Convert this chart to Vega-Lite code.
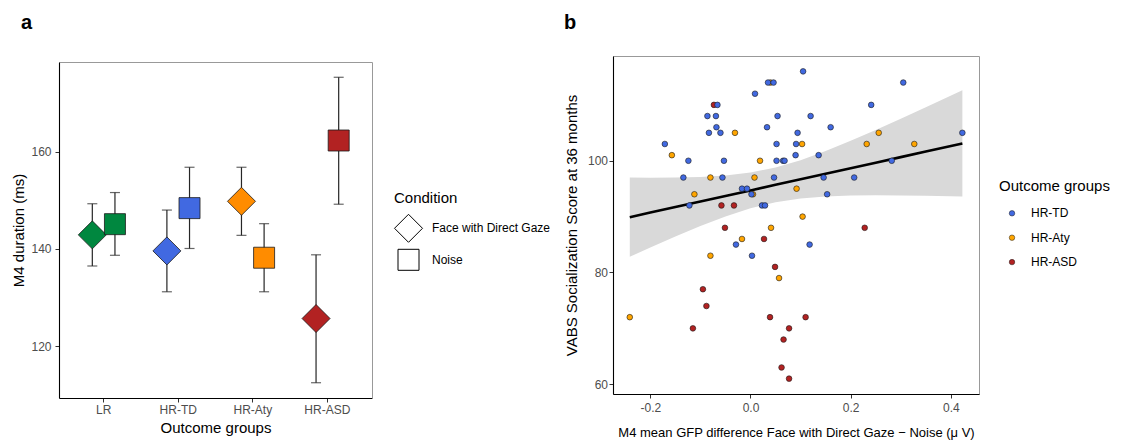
{
  "$schema": "https://vega.github.io/schema/vega-lite/v6.json",
  "padding": {"left": 11, "top": 12, "right": 0, "bottom": 0},
  "background": "white",
  "spacing": 191,
  "config": {
    "font": "Liberation Sans",
    "axis": {"labelFont": "Liberation Sans", "titleFont": "Liberation Sans", "labelColor": "#4D4D4D", "labelFontSize": 12, "titleFontSize": 15, "titleFontWeight": "normal", "titleColor": "black", "domainColor": "black", "domainWidth": 1.1, "tickColor": "#333333", "tickSize": 4, "tickWidth": 1, "grid": false},
    "legend": {"titleFontSize": 15, "titleFontWeight": "normal", "labelFontSize": 12, "labelColor": "black", "titleColor": "black", "labelFont": "Liberation Sans", "titleFont": "Liberation Sans", "titleAnchor": "start", "titleAlign": "left"},
    "title": {"font": "Liberation Sans", "fontSize": 20, "fontWeight": "bold", "anchor": "start", "frame": "bounds", "baseline": "alphabetic", "color": "black"},
    "view": {"stroke": null}
  },
  "datasets": {
    "means": [
      {"group": "LR", "condition": "Face with Direct Gaze", "mean": 142.9, "lo": 136.5, "hi": 149.3},
      {"group": "LR", "condition": "Noise", "mean": 145.1, "lo": 138.7, "hi": 151.6},
      {"group": "HR-TD", "condition": "Face with Direct Gaze", "mean": 139.6, "lo": 131.2, "hi": 148.0},
      {"group": "HR-TD", "condition": "Noise", "mean": 148.4, "lo": 140.1, "hi": 156.8},
      {"group": "HR-Aty", "condition": "Face with Direct Gaze", "mean": 149.8, "lo": 142.8, "hi": 156.8},
      {"group": "HR-Aty", "condition": "Noise", "mean": 138.2, "lo": 131.2, "hi": 145.2},
      {"group": "HR-ASD", "condition": "Face with Direct Gaze", "mean": 125.7, "lo": 112.5, "hi": 138.8},
      {"group": "HR-ASD", "condition": "Noise", "mean": 162.3, "lo": 149.2, "hi": 175.3}
    ],
    "fit": [
      {"gfp": -0.241, "fit": 89.90, "lo": 82.81, "hi": 96.99},
      {"gfp": -0.2, "fit": 90.72, "lo": 84.47, "hi": 96.97},
      {"gfp": -0.15, "fit": 91.71, "lo": 86.43, "hi": 96.99},
      {"gfp": -0.1, "fit": 92.70, "lo": 88.31, "hi": 97.09},
      {"gfp": -0.05, "fit": 93.70, "lo": 90.04, "hi": 97.36},
      {"gfp": 0.0, "fit": 94.69, "lo": 91.50, "hi": 97.88},
      {"gfp": 0.05, "fit": 95.69, "lo": 92.59, "hi": 98.79},
      {"gfp": 0.1, "fit": 96.68, "lo": 93.25, "hi": 100.11},
      {"gfp": 0.15, "fit": 97.67, "lo": 93.60, "hi": 101.74},
      {"gfp": 0.2, "fit": 98.67, "lo": 93.76, "hi": 103.58},
      {"gfp": 0.25, "fit": 99.66, "lo": 93.81, "hi": 105.52},
      {"gfp": 0.3, "fit": 100.65, "lo": 93.78, "hi": 107.52},
      {"gfp": 0.35, "fit": 101.65, "lo": 93.73, "hi": 109.57},
      {"gfp": 0.423, "fit": 103.10, "lo": 93.60, "hi": 112.60}
    ],
    "vabs": [
      {"gfp": -0.073, "vabs": 110, "outcome": "HR-ASD"},
      {"gfp": -0.058, "vabs": 92, "outcome": "HR-ASD"},
      {"gfp": -0.033, "vabs": 92, "outcome": "HR-ASD"},
      {"gfp": -0.051, "vabs": 88, "outcome": "HR-ASD"},
      {"gfp": 0.228, "vabs": 88, "outcome": "HR-ASD"},
      {"gfp": 0.027, "vabs": 86, "outcome": "HR-ASD"},
      {"gfp": 0.049, "vabs": 81, "outcome": "HR-ASD"},
      {"gfp": -0.095, "vabs": 77, "outcome": "HR-ASD"},
      {"gfp": -0.088, "vabs": 74, "outcome": "HR-ASD"},
      {"gfp": 0.039, "vabs": 72, "outcome": "HR-ASD"},
      {"gfp": 0.110, "vabs": 72, "outcome": "HR-ASD"},
      {"gfp": -0.115, "vabs": 70, "outcome": "HR-ASD"},
      {"gfp": 0.077, "vabs": 70, "outcome": "HR-ASD"},
      {"gfp": 0.066, "vabs": 68, "outcome": "HR-ASD"},
      {"gfp": 0.062, "vabs": 63, "outcome": "HR-ASD"},
      {"gfp": 0.077, "vabs": 61, "outcome": "HR-ASD"},
      {"gfp": 0.040, "vabs": 114, "outcome": "HR-Aty"},
      {"gfp": -0.031, "vabs": 105, "outcome": "HR-Aty"},
      {"gfp": 0.256, "vabs": 105, "outcome": "HR-Aty"},
      {"gfp": 0.103, "vabs": 103, "outcome": "HR-Aty"},
      {"gfp": 0.232, "vabs": 103, "outcome": "HR-Aty"},
      {"gfp": 0.327, "vabs": 103, "outcome": "HR-Aty"},
      {"gfp": -0.157, "vabs": 101, "outcome": "HR-Aty"},
      {"gfp": 0.019, "vabs": 100, "outcome": "HR-Aty"},
      {"gfp": -0.080, "vabs": 97, "outcome": "HR-Aty"},
      {"gfp": 0.008, "vabs": 97, "outcome": "HR-Aty"},
      {"gfp": 0.092, "vabs": 95, "outcome": "HR-Aty"},
      {"gfp": -0.112, "vabs": 94, "outcome": "HR-Aty"},
      {"gfp": 0.005, "vabs": 94, "outcome": "HR-Aty"},
      {"gfp": 0.104, "vabs": 90, "outcome": "HR-Aty"},
      {"gfp": 0.041, "vabs": 88, "outcome": "HR-Aty"},
      {"gfp": -0.017, "vabs": 86, "outcome": "HR-Aty"},
      {"gfp": -0.080, "vabs": 83, "outcome": "HR-Aty"},
      {"gfp": 0.057, "vabs": 79, "outcome": "HR-Aty"},
      {"gfp": -0.241, "vabs": 72, "outcome": "HR-Aty"},
      {"gfp": 0.105, "vabs": 116, "outcome": "HR-TD"},
      {"gfp": 0.035, "vabs": 114, "outcome": "HR-TD"},
      {"gfp": 0.046, "vabs": 114, "outcome": "HR-TD"},
      {"gfp": 0.305, "vabs": 114, "outcome": "HR-TD"},
      {"gfp": 0.009, "vabs": 112, "outcome": "HR-TD"},
      {"gfp": -0.066, "vabs": 110, "outcome": "HR-TD"},
      {"gfp": 0.241, "vabs": 110, "outcome": "HR-TD"},
      {"gfp": -0.086, "vabs": 108, "outcome": "HR-TD"},
      {"gfp": -0.069, "vabs": 108, "outcome": "HR-TD"},
      {"gfp": 0.054, "vabs": 108, "outcome": "HR-TD"},
      {"gfp": 0.120, "vabs": 108, "outcome": "HR-TD"},
      {"gfp": -0.068, "vabs": 106, "outcome": "HR-TD"},
      {"gfp": 0.033, "vabs": 106, "outcome": "HR-TD"},
      {"gfp": 0.160, "vabs": 106, "outcome": "HR-TD"},
      {"gfp": -0.083, "vabs": 105, "outcome": "HR-TD"},
      {"gfp": -0.060, "vabs": 105, "outcome": "HR-TD"},
      {"gfp": 0.094, "vabs": 105, "outcome": "HR-TD"},
      {"gfp": 0.423, "vabs": 105, "outcome": "HR-TD"},
      {"gfp": -0.171, "vabs": 103, "outcome": "HR-TD"},
      {"gfp": 0.052, "vabs": 103, "outcome": "HR-TD"},
      {"gfp": 0.091, "vabs": 103, "outcome": "HR-TD"},
      {"gfp": 0.090, "vabs": 101, "outcome": "HR-TD"},
      {"gfp": 0.136, "vabs": 101, "outcome": "HR-TD"},
      {"gfp": -0.124, "vabs": 100, "outcome": "HR-TD"},
      {"gfp": -0.053, "vabs": 100, "outcome": "HR-TD"},
      {"gfp": 0.052, "vabs": 100, "outcome": "HR-TD"},
      {"gfp": 0.065, "vabs": 100, "outcome": "HR-TD"},
      {"gfp": 0.068, "vabs": 100, "outcome": "HR-TD"},
      {"gfp": 0.282, "vabs": 100, "outcome": "HR-TD"},
      {"gfp": -0.134, "vabs": 97, "outcome": "HR-TD"},
      {"gfp": -0.056, "vabs": 97, "outcome": "HR-TD"},
      {"gfp": 0.047, "vabs": 97, "outcome": "HR-TD"},
      {"gfp": 0.146, "vabs": 97, "outcome": "HR-TD"},
      {"gfp": 0.207, "vabs": 97, "outcome": "HR-TD"},
      {"gfp": -0.017, "vabs": 95, "outcome": "HR-TD"},
      {"gfp": -0.007, "vabs": 95, "outcome": "HR-TD"},
      {"gfp": 0.002, "vabs": 94, "outcome": "HR-TD"},
      {"gfp": 0.153, "vabs": 94, "outcome": "HR-TD"},
      {"gfp": -0.122, "vabs": 92, "outcome": "HR-TD"},
      {"gfp": 0.023, "vabs": 92, "outcome": "HR-TD"},
      {"gfp": 0.029, "vabs": 92, "outcome": "HR-TD"},
      {"gfp": -0.029, "vabs": 85, "outcome": "HR-TD"},
      {"gfp": 0.118, "vabs": 85, "outcome": "HR-TD"},
      {"gfp": 0.003, "vabs": 83, "outcome": "HR-TD"}
    ]
  },
  "hconcat": [
    {
      "width": 313,
      "height": 342,
      "title": {"text": "a", "offset": 23.4, "dx": 9},
      "data": {"name": "means"},
      "layer": [
        {
          "mark": {"type": "rule", "color": "#262626", "strokeWidth": 1.2},
          "encoding": {
            "x": {"field": "group", "type": "nominal", "sort": ["LR", "HR-TD", "HR-Aty", "HR-ASD"], "scale": {"type": "band", "paddingInner": 0.393, "paddingOuter": 0.295}, "axis": {"title": "Outcome groups", "labelAngle": 0, "labelPadding": 2.5, "titlePadding": 5}},
            "xOffset": {"field": "condition", "type": "nominal", "sort": ["Face with Direct Gaze", "Noise"], "scale": {"paddingInner": 0, "paddingOuter": 0}},
            "y": {"field": "lo", "type": "quantitative", "scale": {"domain": [109.36, 178.44], "range": [342, 6], "nice": false, "zero": false}, "axis": {"title": "M4 duration (ms)", "values": [120, 140, 160], "labelPadding": 4, "titlePadding": 4}},
            "y2": {"field": "hi"}
          }
        },
        {
          "mark": {"type": "tick", "color": "#262626", "thickness": 1.2, "size": 10, "orient": "horizontal"},
          "encoding": {
            "x": {"field": "group", "type": "nominal", "sort": ["LR", "HR-TD", "HR-Aty", "HR-ASD"], "axis": null},
            "xOffset": {"field": "condition", "type": "nominal", "sort": ["Face with Direct Gaze", "Noise"]},
            "y": {"field": "hi", "type": "quantitative", "axis": null}
          }
        },
        {
          "mark": {"type": "tick", "color": "#262626", "thickness": 1.2, "size": 10, "orient": "horizontal"},
          "encoding": {
            "x": {"field": "group", "type": "nominal", "sort": ["LR", "HR-TD", "HR-Aty", "HR-ASD"], "axis": null},
            "xOffset": {"field": "condition", "type": "nominal", "sort": ["Face with Direct Gaze", "Noise"]},
            "y": {"field": "lo", "type": "quantitative", "axis": null}
          }
        },
        {
          "mark": {"type": "point", "filled": true, "opacity": 1, "color": "white", "stroke": "#1a1a1a", "strokeWidth": 0.8},
          "encoding": {
            "x": {"field": "group", "type": "nominal", "sort": ["LR", "HR-TD", "HR-Aty", "HR-ASD"], "axis": null},
            "xOffset": {"field": "condition", "type": "nominal", "sort": ["Face with Direct Gaze", "Noise"]},
            "y": {"field": "mean", "type": "quantitative", "axis": null},
            "fill": {"field": "group", "type": "nominal", "scale": {"domain": ["LR", "HR-TD", "HR-Aty", "HR-ASD"], "range": ["#00873F", "#4169E1", "#FF8C00", "#B22222"]}, "legend": null},
            "shape": {"field": "condition", "type": "nominal", "title": "Condition", "scale": {"domain": ["Face with Direct Gaze", "Noise"], "range": ["diamond", "square"]}, "legend": {"orient": "none", "legendX": 335, "legendY": 134.8, "titleAnchor": "start", "titlePadding": 8, "rowPadding": 2, "labelOffset": 9, "symbolFillColor": "white", "symbolStrokeColor": "black", "symbolStrokeWidth": 1}},
            "size": {"field": "condition", "type": "nominal", "title": "Condition", "scale": {"domain": ["Face with Direct Gaze", "Noise"], "range": [784, 441]}, "legend": {"orient": "none", "legendX": 335, "legendY": 134.8, "titleAnchor": "start", "titlePadding": 8, "rowPadding": 2, "labelOffset": 9, "symbolFillColor": "white", "symbolStrokeColor": "black", "symbolStrokeWidth": 1}}
          }
        },
        {
          "mark": {"type": "point", "opacity": 0},
          "encoding": {
            "x": {"field": "group", "type": "nominal", "sort": ["LR", "HR-TD", "HR-Aty", "HR-ASD"], "axis": {"orient": "top", "labels": false, "ticks": false, "title": null, "domainColor": "#999999", "domainWidth": 1, "offset": -6}},
            "y": {"field": "mean", "type": "quantitative", "axis": {"orient": "right", "labels": false, "ticks": false, "title": null, "domainColor": "#999999", "domainWidth": 1}}
          }
        }
      ],
      "resolve": {"axis": {"x": "independent", "y": "independent"}}
    },
    {
      "width": 366,
      "height": 338,
      "title": {"text": "b", "offset": 23.4, "dx": -1},
      "view": {"stroke": "#999999"},
      "layer": [
        {
          "data": {"name": "fit"},
          "mark": {"type": "area", "color": "#D9D9D9", "opacity": 1},
          "encoding": {
            "x": {"field": "gfp", "type": "quantitative", "scale": {"domain": [-0.2745, 0.4562], "nice": false, "zero": false}, "axis": {"title": "M4 mean GFP difference Face with Direct Gaze − Noise (μ V)", "titleFontSize": 13, "values": [-0.2, 0, 0.2, 0.4], "labelExpr": "replace(format(datum.value, '.1f'), '−', '-')", "labelPadding": 4, "titlePadding": 13}},
            "y": {"field": "lo", "type": "quantitative", "scale": {"domain": [58.25, 118.75], "nice": false, "zero": false}, "axis": {"title": "VABS Socialization Score at 36 months", "values": [60, 80, 100], "labelPadding": 1.5, "titlePadding": 7.5}},
            "y2": {"field": "hi"}
          }
        },
        {
          "data": {"name": "fit"},
          "mark": {"type": "line", "color": "black", "strokeWidth": 2.6},
          "encoding": {
            "x": {"field": "gfp", "type": "quantitative"},
            "y": {"field": "fit", "type": "quantitative"}
          }
        },
        {
          "data": {"name": "vabs"},
          "mark": {"type": "circle", "size": 32, "opacity": 1, "stroke": "#1a1a1a", "strokeWidth": 0.6},
          "encoding": {
            "x": {"field": "gfp", "type": "quantitative"},
            "y": {"field": "vabs", "type": "quantitative"},
            "color": {"field": "outcome", "type": "nominal", "title": "Outcome groups", "scale": {"domain": ["HR-TD", "HR-Aty", "HR-ASD"], "range": ["#4169E1", "#FFA500", "#B22222"]}, "legend": {"orient": "none", "legendX": 940, "legendY": 122.7, "titlePadding": 13.6, "rowPadding": 12.4, "symbolOffset": 7, "labelOffset": 13, "symbolSize": 30, "symbolStrokeWidth": 0.5}}
          }
        }
      ]
    }
  ]
}
